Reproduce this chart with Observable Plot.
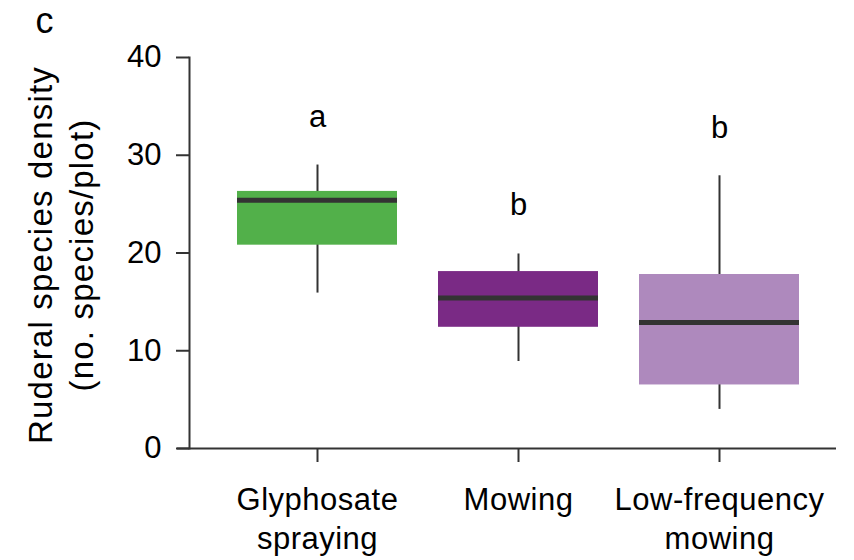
<!DOCTYPE html>
<html><head><meta charset="utf-8">
<script src="https://cdn.jsdelivr.net/npm/d3@7"></script>
<script src="https://cdn.jsdelivr.net/npm/@observablehq/plot@0.6"></script>
<style>body{margin:0;background:#fff}</style>
</head><body><div id="chart"></div>
<script>
const categories = ["Glyphosate\nspraying", "Mowing", "Low-frequency\nmowing"];
const mins    = [15.9, 8.9, 4.0];
const q1s     = [20.8, 12.4, 6.5];
const medians = [25.4, 15.4, 12.9];
const q3s     = [26.3, 18.1, 17.8];
const maxs    = [29.0, 19.9, 27.9];
const letters = ["a", "b", "b"];
const letterY = [33.0, 24.0, 31.9];
const colors  = ["#52b04a", "#7a2a85", "#ae89bd"];
const yTicks  = [0, 10, 20, 30, 40];
const yTitle  = "Ruderal species density\n(no. species/plot)";
const panel   = "c";

const rows = categories.map((c, i) => ({cat: c, min: mins[i], q1: q1s[i], med: medians[i], q3: q3s[i], max: maxs[i], letter: letters[i], ly: letterY[i], color: colors[i]}));
const font = "Liberation Sans, Arial, Helvetica, sans-serif";
const ink = "#333";

const chart = Plot.plot({
  width: 854, height: 560,
  marginLeft: 177, marginRight: 18, marginTop: 57, marginBottom: 112,
  style: {fontFamily: font, fontSize: "31px", color: ink, background: "#fff"},
  x: {domain: categories, range: [237, 799], paddingInner: 0.206, paddingOuter: 0, label: null},
  y: {domain: [0, 40], label: null},
  color: {type: "identity"},
  marks: [
    Plot.ruleX(rows, {x: "cat", y1: "min", y2: "max", stroke: ink, strokeWidth: 2}),
    Plot.barY(rows, {x: "cat", y1: "q1", y2: "q3", fill: "color"}),
    Plot.tickY(rows, {x: "cat", y: "med", stroke: ink, strokeWidth: 5}),
    Plot.text(rows, {x: "cat", y: "ly", text: "letter", lineAnchor: "bottom", dy: 1, fill: "#000", fontSize: 31}),
    Plot.ruleY([0], {stroke: ink, strokeWidth: 2}),
    Plot.frame({anchor: "left", dx: 12, stroke: ink, strokeWidth: 2}),
    Plot.axisY({ticks: yTicks, tickSize: 13, tickPadding: 15, dx: 12, stroke: ink, strokeWidth: 2, fill: "#000", fontSize: 31, label: null}),
    Plot.axisX({tickSize: 14, tickPadding: 20, stroke: ink, strokeWidth: 2, fill: "#000", fontSize: 31, lineAnchor: "top", lineHeight: 1.25, label: null}),
    Plot.text([yTitle], {text: d => d, frameAnchor: "left", textAnchor: "middle", rotate: -90, dx: -118, dy: 2, fontSize: 33, lineHeight: 1.22, fill: "#000"}),
    Plot.text([panel], {text: d => d, frameAnchor: "left", textAnchor: "middle", dx: -133, dy: -232, fontSize: 36, fill: "#000"})
  ]
});
d3.select(chart).selectAll("text").filter(function() { return this.textContent.includes("Ruderal"); })
  .attr("letter-spacing", 1.2);
d3.select(chart).selectAll("g[aria-label='x-axis tick label'] text").attr("letter-spacing", 0.5);
document.getElementById("chart").appendChild(chart);
</script>
</body></html>
